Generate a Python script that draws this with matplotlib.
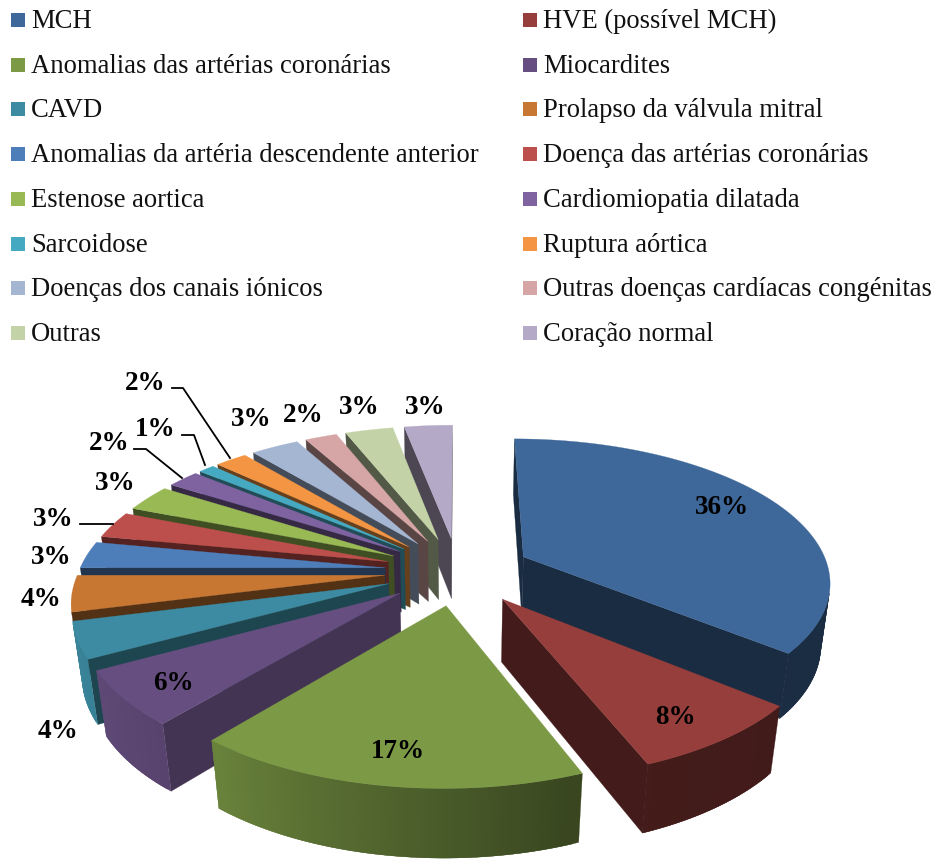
import numpy as np
import matplotlib
matplotlib.use("Agg")
import matplotlib.pyplot as plt

plt.rcParams["font.family"] = ["Liberation Serif", "DejaVu Serif"]

categories = [
    "MCH", "HVE (possível MCH)",
    "Anomalias das artérias coronárias", "Miocardites",
    "CAVD", "Prolapso da válvula mitral",
    "Anomalias da artéria descendente anterior", "Doença das artérias coronárias",
    "Estenose aortica", "Cardiomiopatia dilatada",
    "Sarcoidose", "Ruptura aórtica",
    "Doenças dos canais iónicos", "Outras doenças cardíacas congénitas",
    "Outras", "Coração normal",
]
values = [36, 8, 17, 6, 4, 4, 3, 3, 3, 2, 1, 2, 3, 2, 3, 3]
colors = [
    "#3F689A", "#953E3B", "#7C9A46", "#664F80",
    "#3C8BA2", "#C87733", "#4E7EB9", "#BC4E4C",
    "#98B954", "#7F62A0", "#46A9C2", "#F39542",
    "#A5B6D3", "#D6A5A5", "#C3D3A7", "#B4A9C6",
]

# projection of the tilted pie, in pixels
CX, CY = 458, 571
A, B = 306, 141
P, Q = 0.16, 0.025
DEPTH = 63
EXPLODE = 0.24

# how dark the cut faces are, same order as values
cut_shades = [0.42, 0.44, 0.42, 0.66, 0.5, 0.41, 0.42, 0.44,
              0.42, 0.42, 0.45, 0.42, 0.42, 0.42, 0.42, 0.42]

# label centre in pixels, same order as values
label_pos = [
    (722, 505), (675, 715), (398, 749), (173, 682),
    (58, 729), (41, 597), (51, 555), (53, 517),
    (115, 481), (109, 441), (155, 427), (145, 382),
    (251, 417), (303, 413), (359, 405), (425, 405),
]
leaders = [
    [(172, 388), (183, 388), (230, 458)],
    [(182, 435), (194, 435), (205, 465)],
    [(134, 449), (146, 449), (182, 478)],
    [(80, 524), (113, 524)],
]
legend_rows = [20, 65, 109, 154, 199, 244, 288, 333]


def project(x, y, z):
    """World point to pixel. z = 0 is the top of the pie, z = 1 the bottom."""
    w = 1 + P * y + Q * z
    return CX + A * x / w, CY - B * y / w + DEPTH * z / w


def shade(color, f):
    rgb = np.array(matplotlib.colors.to_rgb(color))
    return tuple(rgb * f)


def wall_shade(deg):
    """Outer wall gets lighter towards the left."""
    d = ((deg + 180) % 360) - 180
    return np.interp(d, [-180, -150, -129, -68, 0, 180], [1, 0.93, 0.85, 0.45, 0.42, 1])


def area(pts):
    p = np.array(pts)
    return 0.5 * np.sum(p[:, 0] * np.roll(p[:, 1], -1) - np.roll(p[:, 0], -1) * p[:, 1])


def face(ax, pts, color):
    ax.fill([p[0] for p in pts], [p[1] for p in pts], facecolor=color,
            edgecolor=color, linewidth=0.2)


fig = plt.figure(figsize=(9.39, 8.59), dpi=100)
ax = fig.add_axes([0, 0, 1, 1])
ax.set_xlim(0, 939)
ax.set_ylim(859, 0)
ax.axis("off")

# slices run clockwise from the top
bounds = 90 - np.cumsum([0] + values) * 3.6
mids = (bounds[:-1] + bounds[1:]) / 2
order = np.argsort(-np.sin(np.radians(mids)))

for i in order:
    start, end, mid = bounds[i], bounds[i + 1], mids[i]
    ox = EXPLODE * np.cos(np.radians(mid))
    oy = EXPLODE * np.sin(np.radians(mid))
    angs = np.linspace(start, end, max(int(start - end) + 2, 3))
    rx = ox + np.cos(np.radians(angs))
    ry = oy + np.sin(np.radians(angs))

    # cut faces, only those turned to the viewer
    dark = shade(colors[i], cut_shades[i])
    for k in (0, -1):
        quad = [project(ox, oy, 0), project(rx[k], ry[k], 0),
                project(rx[k], ry[k], 1), project(ox, oy, 1)]
        if (area(quad) < 0) == (k == 0):
            face(ax, quad, dark)

    # outer wall, strip by strip, each one reaching under the next to hide seams
    last = len(angs) - 1
    for k in range(last - 1, -1, -1):
        k2 = min(k + 2, last)
        quad = [project(rx[k], ry[k], 0), project(rx[k + 1], ry[k + 1], 0),
                project(rx[k2], ry[k2], 0), project(rx[k2], ry[k2], 1),
                project(rx[k + 1], ry[k + 1], 1), project(rx[k], ry[k], 1)]
        if area(quad) < 0:
            a = (angs[k] + angs[k + 1]) / 2
            face(ax, quad, shade(colors[i], wall_shade(a)))

    # top
    top = [project(ox, oy, 0)] + [project(x, y, 0) for x, y in zip(rx, ry)]
    face(ax, top, colors[i])

for v, (x, y) in zip(values, label_pos):
    ax.text(x, y + 2, f"{v}%", ha="center", va="center", fontsize=19.5,
            fontweight="bold", color="black")

for line in leaders:
    ax.plot([p[0] for p in line], [p[1] for p in line], color="black", lw=1.3)

# legend, two columns
for n, name in enumerate(categories):
    row = legend_rows[n // 2]
    sq = 11 if n % 2 == 0 else 523
    tx = 31 if n % 2 == 0 else 543
    ax.fill([sq, sq + 14, sq + 14, sq], [row - 7, row - 7, row + 7, row + 7],
            facecolor=colors[n], edgecolor="none")
    ax.text(tx, row + 8, name, ha="left", va="baseline", fontsize=19.2, color="#111111")

fig.savefig("out.png", dpi=100)
